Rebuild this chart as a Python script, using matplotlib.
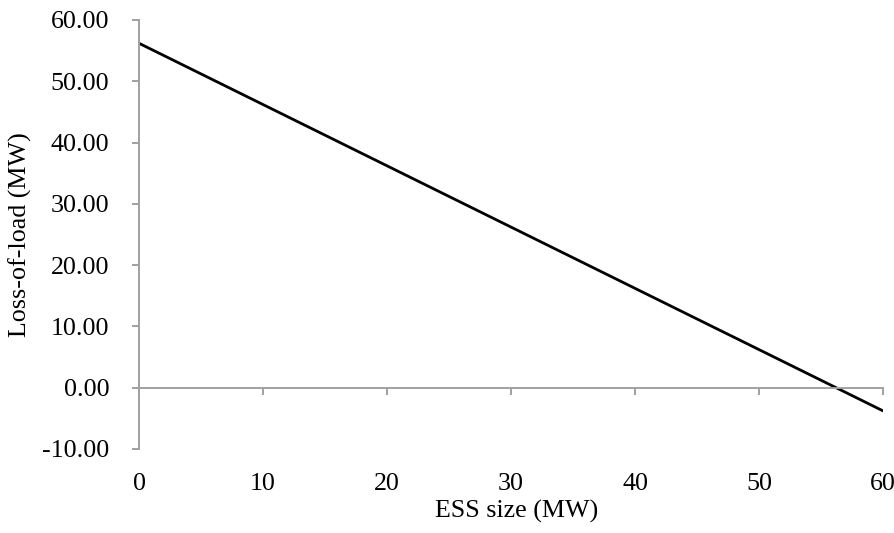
import matplotlib
matplotlib.use('Agg')
import matplotlib.pyplot as plt

# ESS size vs loss-of-load
ess_size = [0, 10, 20, 30, 40, 50, 60]
loss_of_load = [56.2, 46.2, 36.2, 26.2, 16.2, 6.2, -3.8]
x_ticks = [0, 10, 20, 30, 40, 50, 60]
y_ticks = [-10, 0, 10, 20, 30, 40, 50, 60]

plt.rcParams['font.family'] = ['Liberation Serif', 'DejaVu Serif']
plt.rcParams['font.size'] = 18.7

axis_grey = '#a0a0a0'

fig = plt.figure(figsize=(8.94, 5.33), dpi=100)
ax = fig.add_axes([0.1555, 0.1576, 0.988 - 0.1555, 0.9625 - 0.1576])

ax.plot(ess_size, loss_of_load, color='black', lw=2.0, solid_capstyle='butt')

ax.set_xlim(0, 60)
ax.set_ylim(-10, 60)

# y axis on the left, x axis line drawn at zero
for side in ['top', 'right']:
    ax.spines[side].set_visible(False)
ax.spines['left'].set_color(axis_grey)
ax.spines['left'].set_linewidth(1.4)
ax.spines['bottom'].set_position(('data', 0))
ax.spines['bottom'].set_color(axis_grey)
ax.spines['bottom'].set_linewidth(1.4)

ax.set_yticks(y_ticks)
ax.set_yticklabels([f'{v:.2f}' for v in y_ticks])
ax.tick_params(axis='y', direction='out', length=5.4, width=1.4,
               color=axis_grey, pad=16)

ax.set_xticks(x_ticks)
ax.tick_params(axis='x', direction='out', length=5, width=1.4,
               color=axis_grey, labelbottom=False)

# tick labels sit at the bottom of the plot area, like Excel does
sec = ax.secondary_xaxis('bottom')
sec.set_xticks(x_ticks)
sec.set_xticklabels([str(v) for v in x_ticks])
sec.tick_params(length=0, pad=17)
sec.spines['bottom'].set_visible(False)

ax.set_ylabel('Loss-of-load (MW)')
ax.yaxis.set_label_coords(-0.1438, 0.5)
ax.set_xlabel('ESS size (MW)')
ax.xaxis.set_label_coords(0.507, -0.118)

fig.savefig('out.png', dpi=100)
